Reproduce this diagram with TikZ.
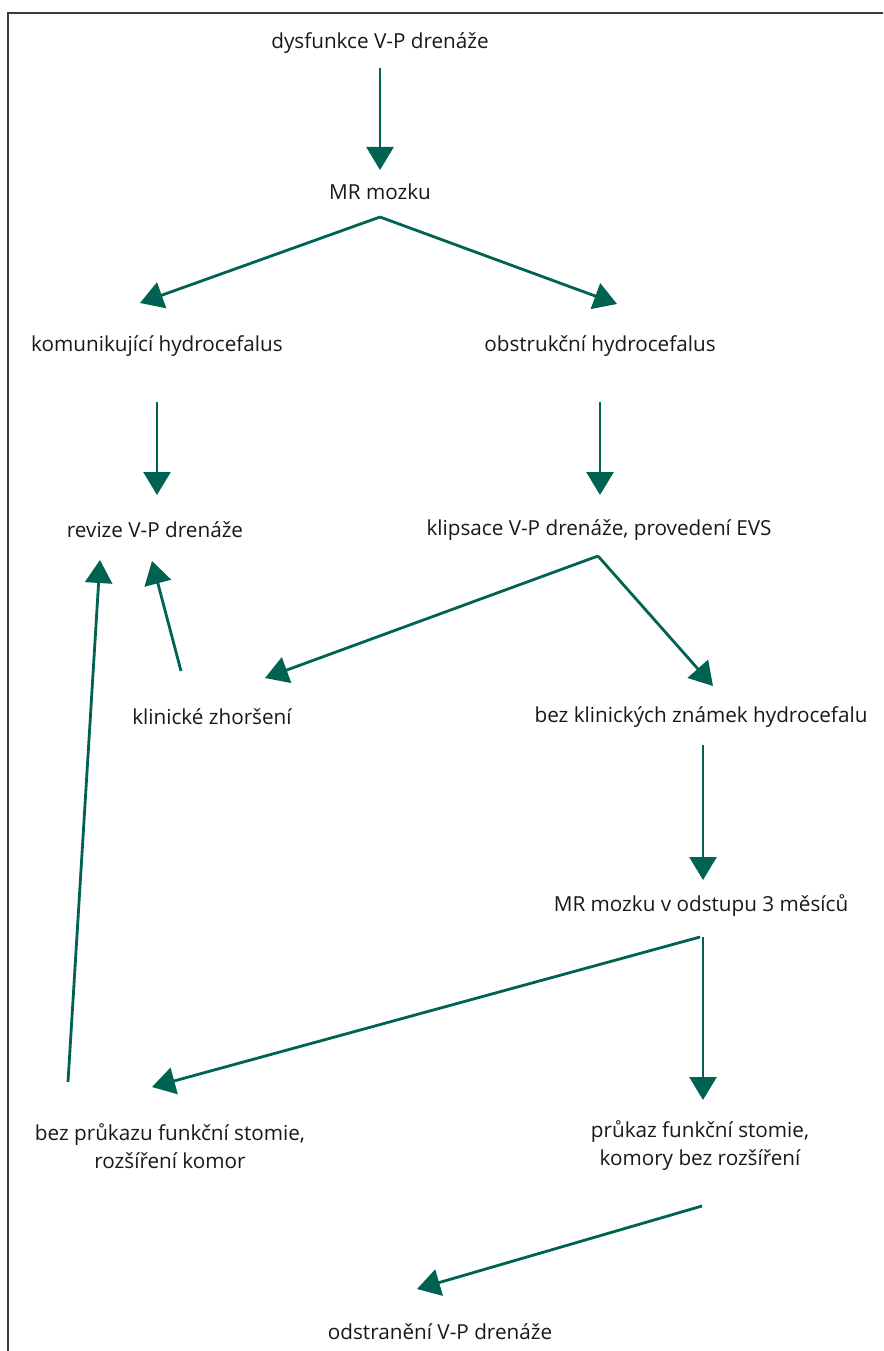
\documentclass[tikz,border=0pt]{standalone}
\usepackage{fontspec}
\setmainfont{Open Sans}
\usetikzlibrary{arrows.meta}
\definecolor{arr}{RGB}{0,98,80}
\definecolor{frame}{RGB}{60,60,60}
\begin{document}
\begin{tikzpicture}[x=1pt,y=-1pt,
  lbl/.style={font=\fontsize{20.7}{28}\selectfont, text=black!90, align=center, inner sep=0pt},
  flow/.style={draw=arr, line width=2.8pt, -{Triangle[length=23pt,width=27pt]}}]
\useasboundingbox (0,0) rectangle (883,1351);
\fill[white] (0,0) rectangle (883,1351);
\draw[frame, line width=1.5pt] (883,13) -- (8,13) -- (8,1351);
% text nodes
\node[lbl] (dys) at (380,43) {dysfunkce V-P drenáže};
\node[lbl] (mr) at (380,192) {MR mozku};
\node[lbl] (kom) at (157,346) {komunikující hydrocefalus};
\node[lbl] (obs) at (600,346) {obstrukční hydrocefalus};
\node[lbl] (rev) at (155,530) {revize V-P drenáže};
\node[lbl] (kli) at (599,530) {klipsace V-P drenáže, provedení EVS};
\node[lbl] (zh) at (212,717) {klinické zhoršení};
\node[lbl] (bez) at (701,717) {bez klinických známek hydrocefalu};
\node[lbl] (mr3) at (701,906) {MR mozku v odstupu 3 měsíců};
\node[lbl] (bpr) at (170,1146) {bez průkazu funkční stomie,\\rozšíření komor};
\node[lbl] (pr) at (700,1146) {průkaz funkční stomie,\\komory bez rozšíření};
\node[lbl] (ods) at (440,1332) {odstranění V-P drenáže};
% connector endpoints
\coordinate (a1s) at (380,68);   \coordinate (a1e) at (380,170);
\coordinate (a2s) at (380,217);  \coordinate (a2e) at (140,303);
\coordinate (a3e) at (617,304);
\coordinate (a4s) at (157,402);  \coordinate (a4e) at (157,495);
\coordinate (a5s) at (600,402);  \coordinate (a5e) at (600,495);
\coordinate (a6s) at (598,556);  \coordinate (a6e) at (265,678);
\coordinate (a7e) at (713,686);
\coordinate (a8s) at (181,671);  \coordinate (a8e) at (152,561);
\coordinate (a9s) at (68,1082);  \coordinate (a9e) at (100,560);
\coordinate (a10s) at (703,745); \coordinate (a10e) at (703,880);
\coordinate (a11s) at (700,937); \coordinate (a11e) at (152,1087);
\coordinate (a12s) at (703,937); \coordinate (a12e) at (703,1100);
\coordinate (a13s) at (702,1206); \coordinate (a13e) at (417,1289);
% connectors
\draw[flow] (a1s) -- (a1e);
\draw[flow] (a2s) -- (a2e);
\draw[flow] (a2s) -- (a3e);
\draw[flow] (a4s) -- (a4e);
\draw[flow] (a5s) -- (a5e);
\draw[flow] (a6s) -- (a6e);
\draw[flow] (a6s) -- (a7e);
\draw[flow] (a8s) -- (a8e);
\draw[flow] (a9s) -- (a9e);
\draw[flow] (a10s) -- (a10e);
\draw[flow] (a11s) -- (a11e);
\draw[flow] (a12s) -- (a12e);
\draw[flow] (a13s) -- (a13e);
\end{tikzpicture}
\end{document}
